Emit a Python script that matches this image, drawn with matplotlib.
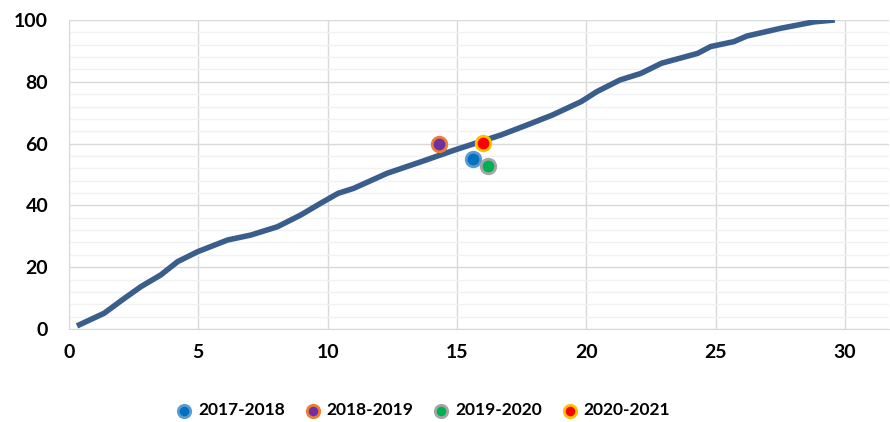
import numpy as np
import matplotlib
matplotlib.use('Agg')
import matplotlib.pyplot as plt

plt.rcParams['font.family'] = ['Lato', 'DejaVu Sans']

# cumulative curve
curve_x = [0.31, 1.36, 2.14, 2.78, 3.55, 4.2, 4.97, 6.13, 7.03, 8.06, 8.96, 9.73,
           10.4, 11.0, 12.3, 13.6, 14.9, 16.7, 17.7, 18.7, 19.8, 20.4, 21.3, 22.1,
           22.9, 24.3, 24.8, 25.7, 26.2, 27.5, 28.8, 29.6]
curve_y = [1.0, 5.1, 9.9, 13.7, 17.5, 21.8, 25.0, 28.8, 30.4, 33.1, 36.9, 40.7,
           43.9, 45.5, 50.4, 54.1, 57.9, 62.8, 66.0, 69.3, 73.6, 76.8, 80.6, 82.7,
           86.0, 89.2, 91.4, 93.0, 94.8, 97.3, 99.4, 100.0]

# yearly points
years = ['2017-2018', '2018-2019', '2019-2020', '2020-2021']
pt_x = [15.6, 14.3, 16.2, 16.0]
pt_y = [54.9, 59.9, 52.7, 60.3]
face = ['#0070C0', '#7030A0', '#00B050', '#FF0000']
edge = ['#5B9BD5', '#ED7D31', '#A5A5A5', '#FFC000']

fig = plt.figure(figsize=(8.9, 4.22), dpi=100)
ax = fig.add_axes([0.0775, 0.2204, 0.9215, 0.7322])

ax.set_xlim(0, 31.7)
ax.set_ylim(0, 100)
ax.set_xticks([0, 5, 10, 15, 20, 25, 30])
ax.set_yticks([0, 20, 40, 60, 80, 100])
ax.set_yticks(np.arange(0, 101, 4), minor=True)
ax.grid(which='minor', axis='y', color='#f2f2f2', lw=1)
ax.grid(which='major', axis='both', color='#d9d9d9', lw=1)
ax.set_axisbelow(True)
ax.tick_params(which='both', length=0, labelsize=14)
ax.tick_params(axis='y', pad=15)
ax.tick_params(axis='x', pad=11)
for lab in ax.get_xticklabels() + ax.get_yticklabels():
    lab.set_fontweight('bold')
for s in ['top', 'right']:
    ax.spines[s].set_visible(False)
for s in ['left', 'bottom']:
    ax.spines[s].set_color('#d9d9d9')

ax.plot(curve_x, curve_y, color='#3A5E8C', lw=4, solid_capstyle='butt', zorder=3)

for i in range(len(years)):
    ax.scatter(pt_x[i], pt_y[i], s=110, color=face[i], edgecolors=edge[i],
               linewidths=2, label=years[i], zorder=4)

leg = fig.legend(loc='center', bbox_to_anchor=(0.475, 0.028), ncol=4,
                 frameon=False, handlelength=1.0, handletextpad=0.3,
                 columnspacing=1.1, markerscale=0.85,
                 prop={'weight': 'bold', 'size': 12.5})

fig.savefig('out.png', dpi=100)
